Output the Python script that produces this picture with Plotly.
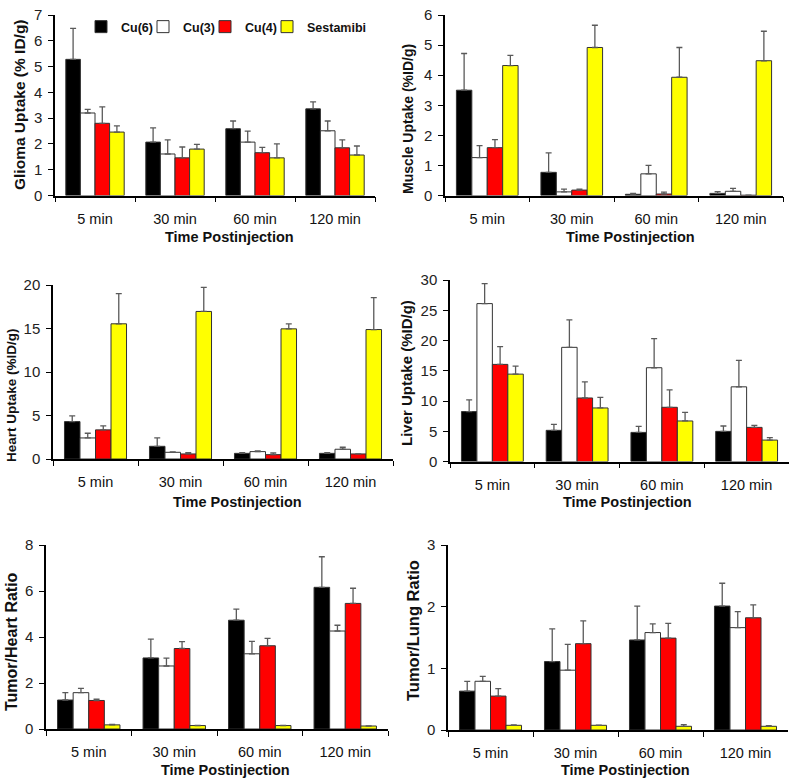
import plotly.graph_objects as go

categories = ["5 min", "30 min", "60 min", "120 min"]
series_names = ["Cu(6)", "Cu(3)", "Cu(4)", "Sestamibi"]
fill_colors = ["#000000", "#FFFFFF", "#FF0000", "#FFFF00"]

# Glioma uptake (% ID/g)
glioma = {
    "Cu(6)": [5.28, 2.07, 2.59, 3.36],
    "Cu(3)": [3.20, 1.61, 2.07, 2.51],
    "Cu(4)": [2.80, 1.46, 1.66, 1.85],
    "Sestamibi": [2.46, 1.80, 1.46, 1.57],
}
glioma_err = {
    "Cu(6)": [1.20, 0.55, 0.30, 0.27],
    "Cu(3)": [0.14, 0.55, 0.43, 0.38],
    "Cu(4)": [0.64, 0.42, 0.21, 0.31],
    "Sestamibi": [0.24, 0.18, 0.54, 0.35],
}
# Muscle uptake (%ID/g)
muscle = {
    "Cu(6)": [3.50, 0.77, 0.04, 0.07],
    "Cu(3)": [1.26, 0.12, 0.72, 0.14],
    "Cu(4)": [1.59, 0.18, 0.05, 0.01],
    "Sestamibi": [4.32, 4.92, 3.93, 4.48],
}
muscle_err = {
    "Cu(6)": [1.22, 0.65, 0.03, 0.06],
    "Cu(3)": [0.40, 0.09, 0.28, 0.10],
    "Cu(4)": [0.27, 0.03, 0.06, 0.0],
    "Sestamibi": [0.34, 0.74, 0.99, 0.98],
}
# Heart uptake (%ID/g)
heart = {
    "Cu(6)": [4.30, 1.46, 0.65, 0.65],
    "Cu(3)": [2.42, 0.77, 0.85, 1.12],
    "Cu(4)": [3.35, 0.58, 0.50, 0.58],
    "Sestamibi": [15.54, 16.96, 14.96, 14.88],
}
heart_err = {
    "Cu(6)": [0.66, 0.96, 0.08, 0.08],
    "Cu(3)": [0.54, 0.04, 0.07, 0.23],
    "Cu(4)": [0.45, 0.15, 0.19, 0.02],
    "Sestamibi": [3.46, 2.77, 0.58, 3.66],
}
# Liver uptake (%ID/g)
liver = {
    "Cu(6)": [8.25, 5.15, 4.81, 4.98],
    "Cu(3)": [26.10, 18.87, 15.50, 12.34],
    "Cu(4)": [16.05, 10.50, 8.96, 5.64],
    "Sestamibi": [14.44, 8.85, 6.70, 3.54],
}
liver_err = {
    "Cu(6)": [1.93, 0.99, 1.00, 0.89],
    "Cu(3)": [3.30, 4.53, 4.80, 4.36],
    "Cu(4)": [2.93, 2.67, 2.88, 0.34],
    "Sestamibi": [1.33, 1.75, 1.43, 0.39],
}
# Tumor/Heart ratio
tumor_heart = {
    "Cu(6)": [1.26, 3.09, 4.73, 6.16],
    "Cu(3)": [1.58, 2.74, 3.27, 4.26],
    "Cu(4)": [1.24, 3.50, 3.62, 5.46],
    "Sestamibi": [0.18, 0.15, 0.15, 0.13],
}
tumor_heart_err = {
    "Cu(6)": [0.32, 0.82, 0.48, 1.33],
    "Cu(3)": [0.19, 0.34, 0.54, 0.25],
    "Cu(4)": [0.06, 0.30, 0.32, 0.66],
    "Sestamibi": [0.02, 0.01, 0.01, 0.01],
}
# Tumor/Lung ratio
tumor_lung = {
    "Cu(6)": [0.63, 1.11, 1.46, 2.01],
    "Cu(3)": [0.79, 0.97, 1.58, 1.66],
    "Cu(4)": [0.55, 1.40, 1.49, 1.82],
    "Sestamibi": [0.076, 0.076, 0.06, 0.06],
}
tumor_lung_err = {
    "Cu(6)": [0.16, 0.53, 0.55, 0.37],
    "Cu(3)": [0.08, 0.42, 0.14, 0.26],
    "Cu(4)": [0.12, 0.37, 0.24, 0.21],
    "Sestamibi": [0.005, 0.003, 0.027, 0.01],
}

y_titles = ["Glioma Uptake (% ID/g)", "Muscle Uptake (%ID/g)", "Heart Uptake (%ID/g)",
            "Liver Uptake (%ID/g)", "Tumor/Heart Ratio", "Tumor/Lung Ratio"]
y_max = [7, 6, 20, 30, 8, 3]
y_dtick = [1, 1, 5, 5, 2, 1]
x_title = "Time Postinjection"

panels = [
    (glioma, glioma_err),
    (muscle, muscle_err),
    (heart, heart_err),
    (liver, liver_err),
    (tumor_heart, tumor_heart_err),
    (tumor_lung, tumor_lung_err),
]

W, H = 800, 784
# pixel boxes: (x0, x1, y_top, y_bottom)
boxes = [
    (55, 375, 15, 195.5),
    (445, 783, 15, 195.5),
    (53, 393, 285, 459),
    (450, 789, 280, 461.5),
    (46, 388, 545, 729),
    (448, 788, 545, 730),
]
# y-title placement (x center px, y center px, font size)
ytitle_pos = [(20, 105, 15.5), (408, 119, 14), (11, 395, 13.5), (407, 373, 15), (11, 642, 16), (413, 631, 16.5)]
xtitle_pos = [(230, 237), (630, 237), (237, 502), (627, 502), (226, 770), (625, 770)]

FONT = "Liberation Sans, Arial, sans-serif"
fig = go.Figure()

for i, (vals, errs) in enumerate(panels):
    sfx = "" if i == 0 else str(i + 1)
    for j, name in enumerate(series_names):
        fig.add_trace(go.Bar(
            x=categories, y=vals[name], name=name,
            xaxis="x" + sfx, yaxis="y" + sfx,
            marker=dict(color=fill_colors[j], line=dict(color="#333333", width=1)),
            error_y=dict(type="data", symmetric=False, array=errs[name],
                         arrayminus=[0] * len(categories), color="#5a5a5a",
                         thickness=1.3, width=3),
            showlegend=(i == 0),
            legendgroup=name,
        ))

# invisible spacer entry so the last legend label is not clipped
fig.add_trace(go.Scatter(x=[categories[0]], y=[None], name=" ", mode="markers",
                         marker=dict(opacity=0), showlegend=True, hoverinfo="skip"))

layout = dict(
    width=W, height=H,
    margin=dict(l=0, r=0, t=0, b=0, autoexpand=False),
    paper_bgcolor="white", plot_bgcolor="white",
    barmode="group", bargap=0.27, bargroupgap=0,
    font=dict(family=FONT, color="#111111"),
    legend=dict(orientation="h", x=81 / W, y=1 - 27 / H, xanchor="left", yanchor="middle",
                font=dict(size=12.5, weight=700, family=FONT), entrywidth=17,
                itemwidth=30, bgcolor="rgba(0,0,0,0)", tracegroupgap=0),
    annotations=[],
)

for i, (x0, x1, yt, yb) in enumerate(boxes):
    sfx = "" if i == 0 else str(i + 1)
    layout["xaxis" + sfx] = dict(
        domain=[x0 / W, x1 / W], anchor="y" + sfx, type="category",
        range=[-0.5, 3.5], showline=True, linecolor="black", linewidth=1.5,
        ticks="outside", tickson="boundaries", ticklen=5, tickcolor="black",
        tickwidth=1.3, showgrid=False, zeroline=False,
        tickfont=dict(size=14.5, family=FONT, color="#111111"), ticklabelstandoff=9,
    )
    layout["yaxis" + sfx] = dict(
        domain=[1 - yb / H, 1 - yt / H], anchor="x" + sfx,
        range=[0, y_max[i]], dtick=y_dtick[i], showline=True, linecolor="black",
        linewidth=1.5, ticks="outside", ticklen=5, tickcolor="black", tickwidth=1.3,
        showgrid=False, zeroline=False,
        tickfont=dict(size=15, family=FONT, color="#222222"), ticklabelstandoff=3,
    )
    tx, ty, fs = ytitle_pos[i]
    layout["annotations"].append(dict(
        text=y_titles[i], x=tx / W, y=1 - ty / H, xref="paper", yref="paper",
        textangle=-90, showarrow=False, xanchor="center", yanchor="middle",
        font=dict(size=fs, weight=700, family=FONT, color="#111111"),
    ))
    ax_, ay_ = xtitle_pos[i]
    layout["annotations"].append(dict(
        text=x_title, x=ax_ / W, y=1 - ay_ / H, xref="paper", yref="paper",
        showarrow=False, xanchor="center", yanchor="middle",
        font=dict(size=14.5, weight=700, family=FONT, color="#111111"),
    ))

fig.update_layout(**layout)
fig.write_html(
    "out.html",
    config={"displayModeBar": False},
    post_script="document.body.style.margin='0';document.body.style.overflow='hidden';",
)
